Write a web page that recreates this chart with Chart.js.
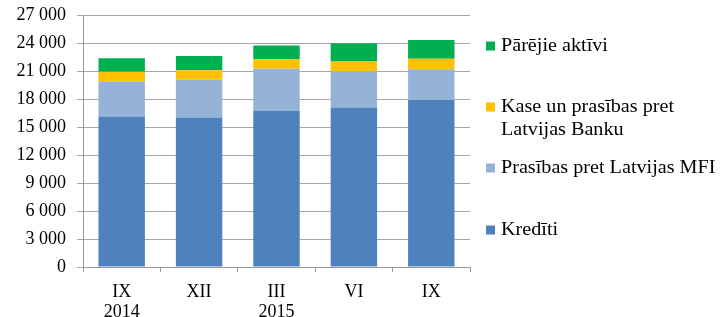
<!DOCTYPE html>
<html>
<head>
<meta charset="utf-8">
<script src="https://cdn.jsdelivr.net/npm/chart.js@4"></script>
<style>
  html, body { margin: 0; padding: 0; background: #fff; }
  #wrap { width: 723px; height: 317px; }
</style>
</head>
<body>
<div id="wrap"><canvas id="myChart" width="723" height="317"></canvas></div>
<script>
// dane
var kategorijas = [["IX", "2014"], "XII", ["III", "2015"], "VI", "IX"];
var krediti = [16180, 16070, 16760, 17140, 17930];
var prasibasMFI = [3750, 4070, 4530, 3860, 3320];
var kase = [1040, 1010, 1040, 1070, 1110];
var parejie = [1460, 1530, 1460, 1970, 2030];
var nosaukumi = [
  "Kredīti",
  "Prasības pret Latvijas MFI",
  "Kase un prasības pret\nLatvijas Banku",
  "Pārējie aktīvi"
];
var krasas = ["#4F81BD", "#95B3D7", "#FFC000", "#00B050"];

var fonts = "'Liberation Serif', 'Times New Roman', serif";

// legenda pa labi
var legendaPlugin = {
  id: "legenda",
  afterDraw: function(chart) {
    var ctx = chart.ctx;
    var yPos = [46, 107, 168, 230];
    var ds = chart.data.datasets.slice().reverse();
    ctx.save();
    ctx.font = "18px " + fonts;
    ctx.textBaseline = "middle";
    ds.forEach(function(d, i) {
      var y = yPos[i];
      ctx.fillStyle = d.backgroundColor;
      ctx.fillRect(486, y - 4.5, 9, 9);
      ctx.fillStyle = "#000";
      var lines = d.label.split("\n");
      lines.forEach(function(l, j) {
        ctx.save();
        ctx.translate(501, y + j * 23);
        ctx.scale(1.12, 1);
        ctx.fillText(l, 0, 0);
        ctx.restore();
      });
    });
    ctx.restore();
  }
};

var ctx = document.getElementById("myChart").getContext("2d");
var chart = new Chart(ctx, {
  type: "bar",
  data: {
    labels: kategorijas,
    datasets: [
      { label: nosaukumi[0], data: krediti, backgroundColor: krasas[0] },
      { label: nosaukumi[1], data: prasibasMFI, backgroundColor: krasas[1] },
      { label: nosaukumi[2], data: kase, backgroundColor: krasas[2] },
      { label: nosaukumi[3], data: parejie, backgroundColor: krasas[3] }
    ]
  },
  options: {
    responsive: false,
    animation: false,
    devicePixelRatio: 1,
    layout: {
      autoPadding: false,
      padding: { top: 10, right: 253, left: 0, bottom: 0 }
    },
    datasets: {
      bar: {
        categoryPercentage: 1,
        barPercentage: 0.6,
        borderWidth: 0
      }
    },
    plugins: {
      legend: { display: false },
      tooltip: { enabled: false }
    },
    scales: {
      x: {
        stacked: true,
        grid: {
          offset: true,
          drawOnChartArea: false,
          drawTicks: true,
          tickLength: 5,
          color: "#999"
        },
        border: { color: "#999", width: 1 },
        ticks: {
          color: "#000",
          padding: 10,
          font: { family: fonts, size: 18, lineHeight: 1.12 }
        },
        afterFit: function(s) { s.height = 50; }
      },
      y: {
        stacked: true,
        min: 0,
        max: 27000,
        grid: {
          color: "#A6A6A6",
          lineWidth: 1,
          tickLength: 6
        },
        border: { color: "#999", width: 1 },
        ticks: {
          stepSize: 3000,
          color: "#000",
          padding: 11,
          font: { family: fonts, size: 18, lineHeight: 0.52 },
          callback: function(v) {
            return String(v).replace(/\B(?=(\d{3})+(?!\d))/g, " ");
          }
        },
        afterFit: function(s) { s.width = 83; }
      }
    }
  },
  plugins: [legendaPlugin]
});
</script>
</body>
</html>
